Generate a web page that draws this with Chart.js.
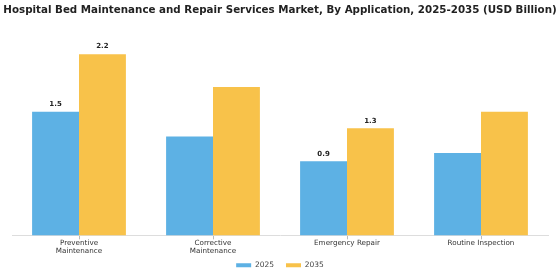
<!DOCTYPE html>
<html>
<head>
<meta charset="utf-8">
<script src="https://cdn.jsdelivr.net/npm/chart.js@4.4.1/dist/chart.umd.min.js"></script>
<style>
  html, body { margin: 0; padding: 0; background: #fff; }
  #wrap { width: 560px; height: 280px; }
</style>
</head>
<body>
<div id="wrap"><canvas id="chart"></canvas></div>
<script>
// 数据
const titleText = 'Hospital Bed Maintenance and Repair Services Market, By Application, 2025-2035 (USD Billion)';
const categories = [['Preventive', 'Maintenance'], ['Corrective', 'Maintenance'], 'Emergency Repair', 'Routine Inspection'];
const values2025 = [1.5, 1.2, 0.9, 1.0];
const values2035 = [2.2, 1.8, 1.3, 1.5];
// 只有部分柱子显示数值
const showLabel2025 = [true, false, true, false];
const showLabel2035 = [true, false, true, false];

const FONT = "'DejaVu Sans', sans-serif";

// 标题（自己画，避免被压缩到绘图区宽度）
const wideTitle = {
  id: 'wideTitle',
  afterDraw(chart) {
    const ctx = chart.ctx;
    ctx.save();
    ctx.font = 'bold 10.3px ' + FONT;
    ctx.fillStyle = '#222';
    ctx.textAlign = 'center';
    ctx.textBaseline = 'middle';
    ctx.fillText(titleText, chart.width / 2, 10);
    ctx.restore();
  }
};

// 柱顶数值标签
const barValueLabels = {
  id: 'barValueLabels',
  afterDatasetsDraw(chart) {
    const ctx = chart.ctx;
    const flags = [showLabel2025, showLabel2035];
    ctx.save();
    ctx.font = 'bold 7px ' + FONT;
    ctx.fillStyle = '#222';
    ctx.textAlign = 'center';
    ctx.textBaseline = 'bottom';
    chart.data.datasets.forEach((ds, i) => {
      const meta = chart.getDatasetMeta(i);
      meta.data.forEach((bar, j) => {
        if (!flags[i][j]) return;
        ctx.fillText(ds.data[j].toFixed(1), bar.x, bar.y - 4);
      });
    });
    ctx.restore();
  }
};

new Chart(document.getElementById('chart').getContext('2d'), {
  type: 'bar',
  data: {
    labels: categories,
    datasets: [
      { label: '2025', data: values2025, backgroundColor: '#5DB1E4', borderWidth: 0 },
      { label: '2035', data: values2035, backgroundColor: '#F8C24A', borderWidth: 0 }
    ]
  },
  options: {
    responsive: true,
    maintainAspectRatio: false,
    animation: false,
    layout: { padding: { left: 12, right: 12, top: 36, bottom: 1 } },
    datasets: { bar: { barPercentage: 1, categoryPercentage: 0.7 } },
    scales: {
      x: {
        grid: { display: true, drawOnChartArea: false, offset: false, tickLength: 4, color: '#bbb' },
        border: { display: true, color: '#ddd' },
        ticks: { color: '#333', font: { family: FONT, size: 7.2, lineHeight: 1.05 }, padding: 0, maxRotation: 0, autoSkip: false },
        // 标签可以伸进图例上方的空白，不裁剪
        afterFit(scale) {
          scale.height -= 5;
          scale._computeLabelArea = () => null;
        }
      },
      y: {
        display: false,
        min: 0,
        max: 2.42
      }
    },
    plugins: {
      title: { display: false },
      legend: {
        position: 'bottom',
        labels: {
          color: '#444',
          font: { family: FONT, size: 7.5 },
          boxWidth: 15,
          boxHeight: 4,
          padding: 12
        }
      },
      tooltip: { enabled: false }
    }
  },
  plugins: [wideTitle, barValueLabels]
});
</script>
</body>
</html>
